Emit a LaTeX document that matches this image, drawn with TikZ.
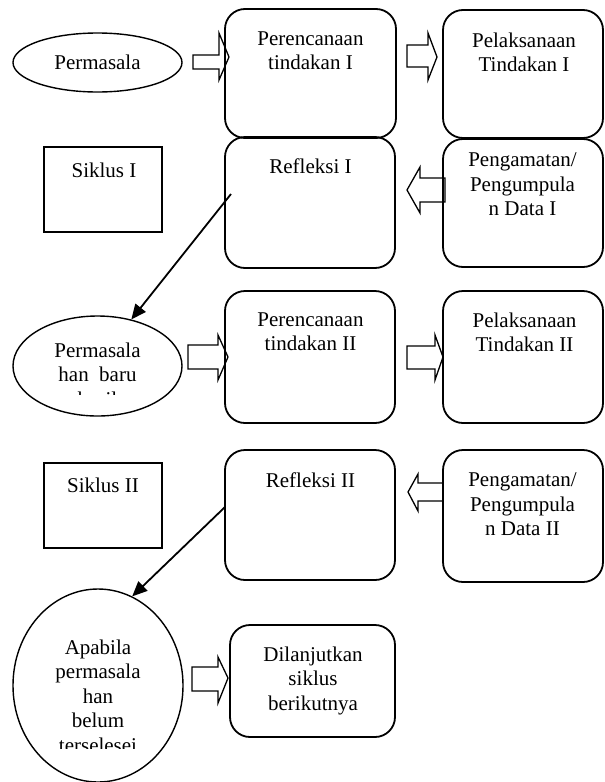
\documentclass[tikz,border=0pt]{standalone}
\usepackage{fontspec}
\setmainfont{Liberation Serif}
\usetikzlibrary{arrows.meta,shapes.geometric}
\begin{document}
\begin{tikzpicture}[x=1pt,y=-1pt,
  rbox/.style={draw, line width=1.8pt, rounded corners=20pt, inner sep=0pt},
  sbox/.style={draw, line width=1.8pt, inner sep=0pt},
  ell/.style={draw, ellipse, line width=1.4pt, inner sep=0pt},
  txt/.style={font=\fontsize{21}{24.5}\selectfont, align=center, inner sep=0pt, anchor=north},
  barrow/.style={draw, line width=1.3pt, line join=miter},
  thin/.style={draw, line width=1.8pt, -{Triangle[length=15pt,width=13pt]}}]
\useasboundingbox (0,0) rectangle (605,782);

% ---- row 1 ----
\node[ell, minimum width=169pt, minimum height=59pt] (e1) at (97.5,62.5) {};
\node[txt] (e1t) at (97.5,54.5) {Permasala};

\node[rbox, minimum width=171pt, minimum height=129pt] (p1) at (310.5,73.5) {};
\node[txt] (p1t) at (310.5,31.5) {Perencanaan\\tindakan I};

\node[rbox, minimum width=160pt, minimum height=128pt] (pl1) at (523,74) {};
\node[txt] (pl1t) at (524,32.5) {Pelaksanaan\\Tindakan I};

\node[sbox, minimum width=118pt, minimum height=85pt] (s1) at (103,189.5) {};
\node[txt] (s1t) at (104,162.5) {Siklus I};

\node[rbox, minimum width=170pt, minimum height=131pt] (r1) at (310,202.5) {};
\node[txt] (r1t) at (310.5,158.5) {Refleksi I};

\node[rbox, minimum width=160pt, minimum height=128pt] (pg1) at (523,203) {};
\node[txt] (pg1t) at (522.5,152.5) {Pengamatan/\\Pengumpula\\n Data I};

% ---- row 2 ----
\node[ell, minimum width=169pt, minimum height=100pt] (e2) at (97.5,366) {};
\begin{scope}
  \clip (0,300) rectangle (200,394);
  \node[txt] (e2t) at (97.5,342.5) {Permasala\\han~ baru\\hasil};
\end{scope}

\node[rbox, minimum width=170pt, minimum height=132pt] (p2) at (310,357) {};
\node[txt] (p2t) at (310.5,312.5) {Perencanaan\\tindakan II};

\node[rbox, minimum width=160pt, minimum height=132pt] (pl2) at (523,357) {};
\node[txt] (pl2t) at (524.5,312.5) {Pelaksanaan\\Tindakan II};

\node[sbox, minimum width=118pt, minimum height=85pt] (s2) at (103,505.5) {};
\node[txt] (s2t) at (103,477.5) {Siklus II};

\node[rbox, minimum width=170pt, minimum height=130pt] (r2) at (310,515) {};
\node[txt] (r2t) at (310.5,472.5) {Refleksi II};

\node[rbox, minimum width=160pt, minimum height=132pt] (pg2) at (523,516) {};
\node[txt] (pg2t) at (522.5,472.5) {Pengamatan/\\Pengumpula\\n Data II};

% ---- row 3 ----
\node[ell, minimum width=170pt, minimum height=193pt] (e3) at (98,685.5) {};
\begin{scope}
  \clip (0,600) rectangle (200,748);
  \node[txt] (e3t) at (98,639.5) {Apabila\\permasala\\han\\belum\\terselesei};
\end{scope}

\node[rbox, minimum width=165pt, minimum height=112pt] (d) at (312.5,681) {};
\node[txt] (dt) at (313,646.5) {Dilanjutkan\\siklus\\berikutnya};

% ---- block arrows ----
\draw[barrow] (193,55) -- (219,55) -- (219,33) -- (229,57) -- (219,80) -- (219,69) -- (193,69) -- cycle;
\draw[barrow] (407,45) -- (428,45) -- (428,33) -- (437,57) -- (428,80) -- (428,67) -- (407,67) -- cycle;
\draw[barrow] (445,178) -- (420,178) -- (420,167) -- (407,190) -- (420,213) -- (420,202) -- (445,202) -- cycle;
\draw[barrow] (188,345) -- (218,345) -- (218,335) -- (228,357) -- (218,380) -- (218,369) -- (188,369) -- cycle;
\draw[barrow] (407,346) -- (435,346) -- (435,335) -- (443,357) -- (435,380) -- (435,369) -- (407,369) -- cycle;
\draw[barrow] (443,483) -- (418,483) -- (418,474) -- (408,492) -- (418,511) -- (418,501) -- (443,501) -- cycle;
\draw[barrow] (192,667) -- (218,667) -- (218,657) -- (228,678) -- (218,703) -- (218,691) -- (192,691) -- cycle;

% ---- thin connectors ----
\coordinate (c1) at (231,194);
\coordinate (c2) at (225,507);
\draw[thin] (c1) -- (e2.54);
\draw[thin] (c2) -- (e3.69);
\end{tikzpicture}
\end{document}
